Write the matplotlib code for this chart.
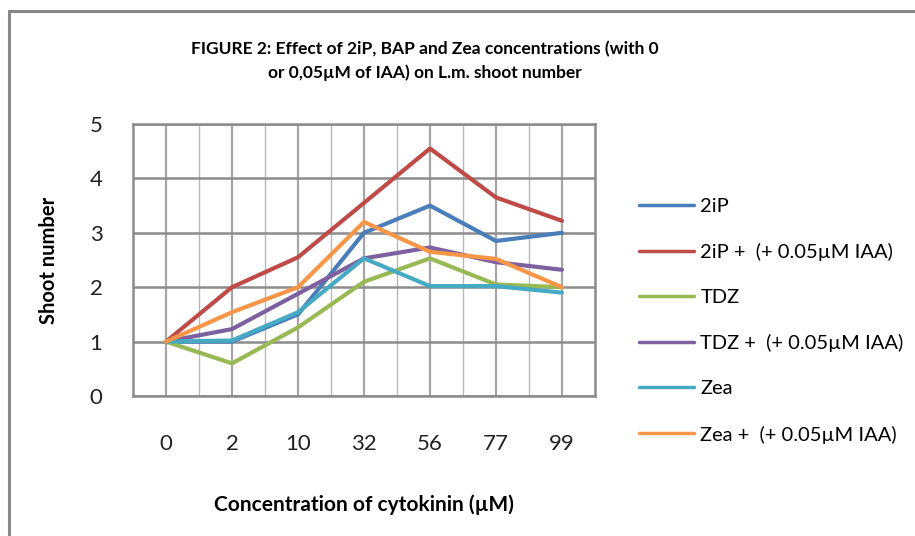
import matplotlib
matplotlib.use("Agg")
import matplotlib.pyplot as plt
from matplotlib.patches import Rectangle

plt.rcParams['font.family'] = ['Lato', 'DejaVu Sans']

# ---- data ----
concentrations = ['0', '2', '10', '32', '56', '77', '99']
series_names = ['2iP', '2iP +  (+ 0.05µM IAA)', 'TDZ', 'TDZ +  (+ 0.05µM IAA)',
                'Zea', 'Zea +  (+ 0.05µM IAA)']
ip = [1, 1.0, 1.5, 3.0, 3.5, 2.85, 3.0]
ip_iaa = [1, 2.0, 2.55, 3.55, 4.55, 3.65, 3.22]
tdz = [1, 0.6, 1.26, 2.1, 2.53, 2.05, 2.0]
tdz_iaa = [1, 1.23, 1.88, 2.53, 2.73, 2.46, 2.32]
zea = [1, 1.02, 1.54, 2.53, 2.02, 2.02, 1.9]
zea_iaa = [1, 1.54, 2.0, 3.2, 2.65, 2.52, 2.0]
colors = ['#4A7EBB', '#BE4B48', '#98B954', '#7D60A0', '#46AAC5', '#F79646']

all_series = [ip, ip_iaa, tdz, tdz_iaa, zea, zea_iaa]

fig = plt.figure(figsize=(9.15, 5.36), dpi=100)
# grey frame round the chart (only top and left show)
fig.patches.append(Rectangle((9 / 915, -0.1), 1.2, (536 - 11) / 536 + 0.1,
                             transform=fig.transFigure, fill=False,
                             edgecolor='#888888', linewidth=2.2))

ax = fig.add_axes([133 / 915, 1 - 396 / 536, (595 - 133) / 915, (396 - 124) / 536])

x = list(range(len(concentrations)))
for vals, name, c in zip(all_series, series_names, colors):
    ax.plot(x, vals, color=c, linewidth=3.0, label=name,
            solid_joinstyle='round', solid_capstyle='round')

ax.set_xlim(-0.5, len(concentrations) - 0.5)
ax.set_ylim(0, 5)
ax.set_xticks(x)
ax.set_xticklabels(concentrations)
ax.set_yticks([0, 1, 2, 3, 4, 5])
ax.set_xticks([i + 0.5 for i in x[:-1]], minor=True)
ax.tick_params(axis='both', which='both', length=0, labelsize=16, colors='#222222')
ax.tick_params(axis='y', pad=22)
ax.tick_params(axis='x', pad=27)

ax.grid(axis='y', which='major', color='#8c8c8c', linewidth=1.8)
ax.grid(axis='x', which='major', color='#a6a6a6', linewidth=1.6)
ax.grid(axis='x', which='minor', color='#b8b8b8', linewidth=1.0)
ax.set_axisbelow(True)
for s in ax.spines.values():
    s.set_color('#8c8c8c')
    s.set_linewidth(1.8)

ax.set_xlabel('Concentration of cytokinin (µM)', fontsize=15, fontweight='bold')
ax.set_ylabel('Shoot number', fontsize=14.5, fontweight='bold')
ax.xaxis.set_label_coords(0.5, -(494 - 396) / 272)
ax.yaxis.set_label_coords(-(133 - 59) / 462, 0.5)

fig.text(425 / 915, 1 - 61 / 536,
         'FIGURE 2: Effect of 2iP, BAP and Zea concentrations (with 0\nor 0,05µM of IAA) on L.m. shoot number',
         ha='center', va='center', fontsize=12.5, fontweight='bold', linespacing=1.6)

leg = ax.legend(loc='upper left', bbox_to_anchor=(629 / 915, 1 - 188 / 536),
                bbox_transform=fig.transFigure, frameon=False, fontsize=14.5,
                handlelength=2.75, handletextpad=0.3, labelspacing=1.39,
                borderpad=0)
for line in leg.get_lines():
    line.set_linewidth(2.5)

fig.savefig('out.png', dpi=100)
